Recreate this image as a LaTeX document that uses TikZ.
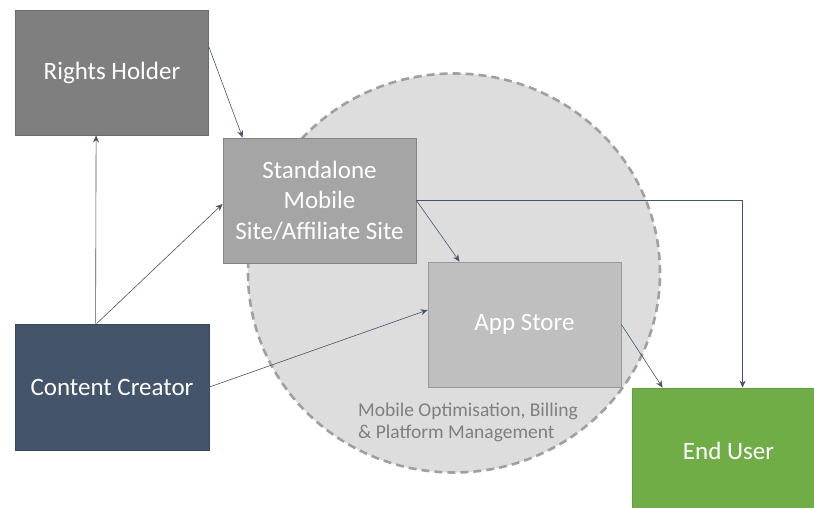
\documentclass[tikz,border=0pt]{standalone}
\usepackage{fontspec}
\setmainfont{Carlito}
\usetikzlibrary{shapes.geometric,arrows.meta}
\definecolor{rhgray}{HTML}{7F7F7F}
\definecolor{sagray}{HTML}{A5A5A5}
\definecolor{asgray}{HTML}{BFBFBF}
\definecolor{zonefill}{HTML}{DDDDDD}
\definecolor{zoneline}{HTML}{A0A0A0}
\definecolor{navy}{HTML}{44546A}
\definecolor{leaf}{HTML}{70AD47}
\definecolor{conn}{HTML}{44546A}
\definecolor{captext}{HTML}{7F7F7F}
\tikzset{
  box/.style={rectangle, minimum width=193pt, minimum height=125pt, inner sep=0pt,
    line width=0.8pt, text=white, font=\fontsize{25}{30.5}\selectfont, align=center},
  conn/.style={draw=conn, line width=0.6pt, -{Stealth[length=7pt,width=6pt]}},
}
\begin{document}
\begin{tikzpicture}[x=1pt,y=-1pt]
\useasboundingbox (0,0) rectangle (814,508);
\clip (0,0) rectangle (814,508);
\fill[white] (0,0) rectangle (814,508);
\node[ellipse, fill=zonefill, draw=zoneline, line width=2.6pt, dash pattern=on 8pt off 5pt,
  minimum width=412pt, minimum height=399pt, inner sep=0pt] (zone) at (454,273) {};
\node[anchor=west, align=left, text=captext, font=\fontsize{19.5}{22}\selectfont, inner sep=0pt] (cap) at (358,422)
  {Mobile Optimisation, Billing\\\& Platform Management};
\node[box, fill=rhgray, draw=rhgray!85!black] (rh) at (112,72.5) {\raisebox{-2pt}{Rights Holder}};
\node[box, fill=sagray, draw=sagray!80!black] (sa) at (319.5,200.5) {Standalone\\Mobile\\Site/Affiliate Site};
\node[box, fill=asgray, draw=asgray!80!black] (as) at (524.5,324.5) {App Store};
\node[box, minimum width=194pt, minimum height=126pt, fill=navy, draw=navy!85!black] (cc) at (112,387) {Content Creator};
\node[box, fill=leaf, draw=leaf!90!black] (eu) at (728.5,450.5) {End User};
\draw[conn] ([xshift=81pt]cc.north west) -- ([xshift=81pt]rh.south west);
\draw[conn] ([xshift=82pt]cc.north west) -- ([yshift=-3.5pt]sa.west);
\draw[conn] ([yshift=25.5pt]rh.east) -- ([xshift=20pt]sa.north west);
\draw[conn] (sa.east) -- ([xshift=32pt]as.north west);
\draw[conn] (sa.east) -| ([xshift=111pt]eu.north west);
\draw[conn] (cc.east) -- ([yshift=14.5pt]as.west);
\draw[conn] (as.east) -- ([xshift=31pt]eu.north west);
\end{tikzpicture}
\end{document}
